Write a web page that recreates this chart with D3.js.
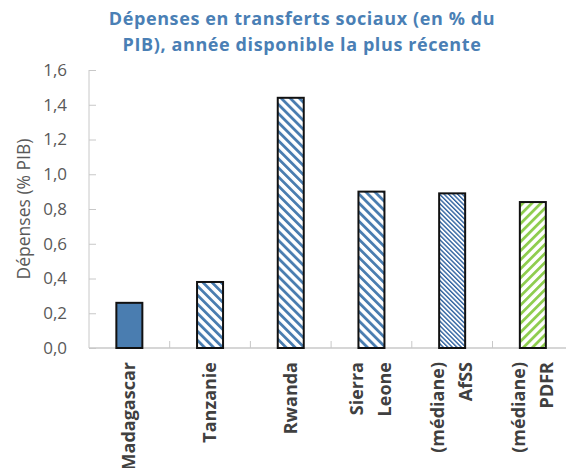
<!DOCTYPE html>
<html>
<head>
<meta charset="utf-8">
<script src="https://cdn.jsdelivr.net/npm/d3@7"></script>
<style>
  body { margin: 0; background: #fff; }
  text { font-family: "Open Sans", "DejaVu Sans", sans-serif; }
</style>
</head>
<body>
<div id="chart"></div>
<script>
// donnees
var categories = [["Madagascar"], ["Tanzanie"], ["Rwanda"], ["Sierra", "Leone"], ["(médiane)", "AfSS"], ["(médiane)", "PDFR"]];
var values = [0.26, 0.38, 1.44, 0.90, 0.89, 0.84];
var fills = ["solid", "wide", "wide", "wide", "fine", "green"];
var yTicks = [0, 0.2, 0.4, 0.6, 0.8, 1.0, 1.2, 1.4, 1.6];

var W = 566, H = 468;
var margin = {top: 70, left: 89, bottom: 120};
var plotH = 348 - margin.top;
var catW = 80.7;

var blue = "#4a7db0", green = "#8fcd4f", grey = "#595959";

var svg = d3.select("#chart").append("svg")
    .attr("width", W).attr("height", H);

var defs = svg.append("defs");
function stripes(id, color, period, lw, angle) {
  var p = defs.append("pattern")
      .attr("id", id)
      .attr("patternUnits", "userSpaceOnUse")
      .attr("width", period).attr("height", period)
      .attr("patternTransform", "rotate(" + angle + ")");
  p.append("rect").attr("width", period).attr("height", period).attr("fill", "#fff");
  p.append("rect").attr("width", lw).attr("height", period).attr("fill", color);
}
stripes("wide", blue, 6.4, 2.8, -45);
stripes("fine", "#2f62a0", 3.2, 1.4, -45);
stripes("green", green, 6.4, 2.8, 45);

var x = d3.scaleBand()
    .domain(d3.range(categories.length))
    .range([margin.left, margin.left + catW * categories.length]);
var y = d3.scaleLinear().domain([0, 1.6]).range([348, margin.top]);

// titre
var title = svg.append("text")
    .attr("x", 302).attr("y", 25)
    .attr("text-anchor", "middle")
    .style("font-size", "18px").style("font-weight", "bold")
    .style("letter-spacing", "0.6px")
    .attr("fill", "#4a7fb5");
title.append("tspan").attr("x", 302).text("Dépenses en transferts sociaux (en % du");
title.append("tspan").attr("x", 302).attr("dy", 26).text("PIB), année disponible la plus récente");

// axe y
var yAxis = d3.axisLeft(y).tickValues(yTicks)
    .tickFormat(function(d) { return d3.format(".1f")(d).replace(".", ","); })
    .tickSize(-7).tickPadding(22);
var gy = svg.append("g")
    .attr("transform", "translate(" + margin.left + ",0)")
    .call(yAxis);
gy.select(".domain").attr("stroke", "#c8c8c8").attr("d", "M0," + y(1.6) + "V" + y(0));
gy.selectAll(".tick line").attr("stroke", "#c8c8c8");
gy.selectAll(".tick text").attr("fill", grey).style("font-size", "17px").style("font-family", "Open Sans");

svg.append("text")
    .attr("transform", "translate(30," + (margin.top + plotH / 2) + ") rotate(-90)")
    .attr("text-anchor", "middle")
    .attr("fill", grey)
    .style("font-size", "17.5px")
    .text("Dépenses (% PIB)");

// axe x
var gx = svg.append("g");
gx.append("line")
    .attr("x1", x.range()[0]).attr("x2", x.range()[1])
    .attr("y1", y(0)).attr("y2", y(0))
    .attr("stroke", "#c8c8c8").attr("stroke-width", 1.5);
gx.selectAll(".sep")
    .data(d3.range(1, categories.length))
    .enter().append("line")
    .attr("x1", function(d) { return x(d); })
    .attr("x2", function(d) { return x(d); })
    .attr("y1", y(0)).attr("y2", y(0) - 7)
    .attr("stroke", "#c8c8c8");

// barres
var barW = 26;
svg.selectAll(".bar")
    .data(values)
    .enter().append("rect")
    .attr("class", "bar")
    .attr("x", function(d, i) { return x(i) + x.bandwidth() / 2 - barW / 2; })
    .attr("width", barW)
    .attr("y", function(d) { return y(d); })
    .attr("height", function(d) { return y(0) - y(d); })
    .attr("fill", function(d, i) { return fills[i] === "solid" ? blue : "url(#" + fills[i] + ")"; })
    .attr("stroke", "#111")
    .attr("stroke-width", 2);

// etiquettes
svg.selectAll(".lab")
    .data(categories)
    .enter().append("text")
    .attr("class", "lab")
    .attr("transform", function(d, i) {
      var cx = x(i) + x.bandwidth() / 2;
      var off = (d.length - 1) * 28 / 2;
      return "translate(" + (cx - off + 6) + ",362) rotate(-90)";
    })
    .attr("text-anchor", "end")
    .attr("fill", "#404040")
    .style("font-size", "18px").style("font-weight", "bold")
    .each(function(d) {
      var t = d3.select(this);
      d.forEach(function(s, j) {
        t.append("tspan").attr("x", 0).attr("dy", j === 0 ? 0 : 28).text(s);
      });
    });
</script>
</body>
</html>
